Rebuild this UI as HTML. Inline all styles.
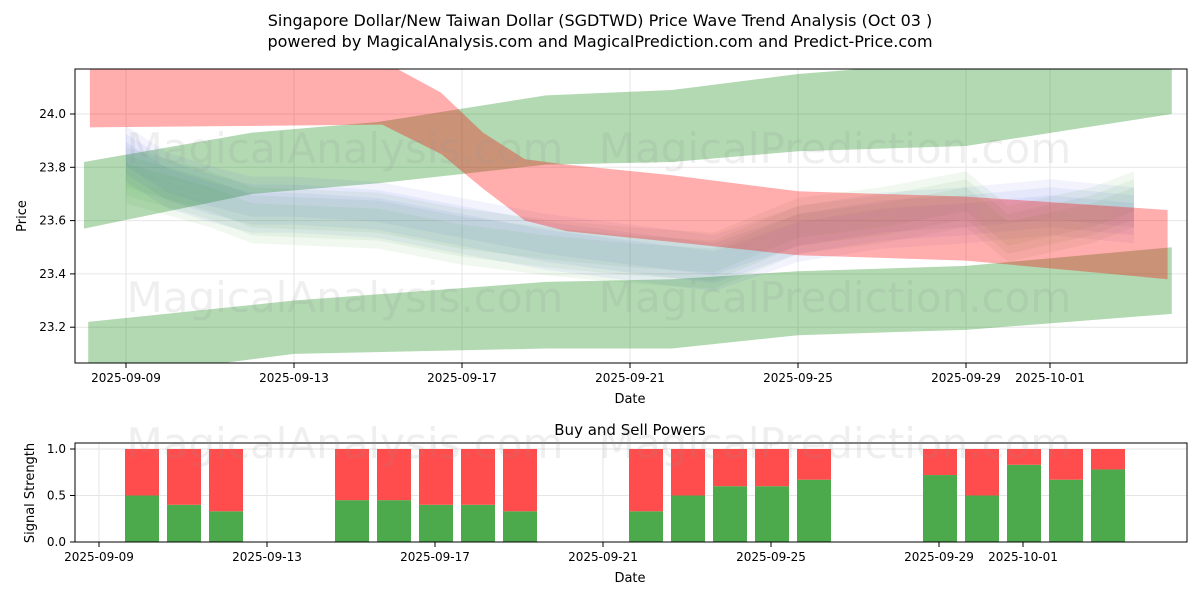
<!DOCTYPE html>
<html><head><meta charset="utf-8"><style>
body{margin:0;background:#fff;font-family:"Liberation Sans","DejaVu Sans",sans-serif}
svg text{font-family:"DejaVu Sans","Liberation Sans",sans-serif}
</style></head><body>
<svg id="c" width="1200" height="600" xmlns="http://www.w3.org/2000/svg">
<rect width="1200" height="600" fill="#fff"/>
<text x="600" y="26" text-anchor="middle" font-size="16">Singapore Dollar/New Taiwan Dollar (SGDTWD) Price Wave Trend Analysis (Oct 03 )</text>
<text x="600" y="47" text-anchor="middle" font-size="16">powered by MagicalAnalysis.com and MagicalPrediction.com and Predict-Price.com</text>
<defs><clipPath id="cp1"><rect x="75" y="69" width="1112" height="294"/></clipPath></defs>
<g id="topPlot" clip-path="url(#cp1)"></g>
<g id="topAxes"></g>
<g id="bot"></g>
</svg>
<script>
// ---- data ----
const bandRedDays=[-0.86,6.1,7.5,8.5,9.5,10.5,13,16,20,24.8];
const bandRedLo=[23.95,23.96,23.85,23.72,23.6,23.56,23.52,23.47,23.45,23.38];
const bandRedHi=[24.25,24.2,24.08,23.93,23.83,23.81,23.77,23.71,23.69,23.64];
const bandUpDays=[-1,3,6,10,13,16,20,24.9];
const bandUpLo=[23.57,23.7,23.74,23.81,23.82,23.86,23.88,24.0];
const bandUpHi=[23.82,23.93,23.97,24.07,24.09,24.15,24.2,24.25];
const bandLowDays=[-0.9,4,10,13,16,20,24.9];
const bandLowLo=[23.0,23.1,23.12,23.12,23.17,23.19,23.25];
const bandLowHi=[23.22,23.3,23.37,23.38,23.41,23.43,23.5];
const blueDays=[0,1,2,3,4,6,8,10,12,14,16,18,20,22,24];
const blueMid=[23.85,23.75,23.7,23.66,23.66,23.64,23.58,23.52,23.48,23.44,23.55,23.6,23.62,23.65,23.62];
const greenDays=[0,2,3,6,8,10,12,14,16,18,20,21,23,24];
const greenMid=[23.77,23.68,23.62,23.6,23.54,23.5,23.47,23.45,23.58,23.62,23.68,23.55,23.62,23.68];
const yTicks=[23.2,23.4,23.6,23.8,24.0];
const xTickDays=[0,4,8,12,16,20,22];
const xTickLabels=["2025-09-09","2025-09-13","2025-09-17","2025-09-21","2025-09-25","2025-09-29","2025-10-01"];
const barDays=[1,2,3,6,7,8,9,10,13,14,15,16,17,20,21,22,23,24];
const buyVals=[0.5,0.4,0.33,0.45,0.45,0.4,0.4,0.33,0.33,0.5,0.6,0.6,0.67,0.72,0.5,0.83,0.67,0.78];
const sigTicks=[0,0.5,1.0];

const NS="http://www.w3.org/2000/svg";
function mk(t,a,p){const e=document.createElementNS(NS,t);for(const k in a)e.setAttribute(k,a[k]);p.appendChild(e);return e;}
const X=d=>126+42*d;
const Y=v=>114+(24.0-v)*266.5;
const XB=d=>99+42*d;
const YB=v=>542-v*93;
const topG=document.getElementById('topPlot'),ta=document.getElementById('topAxes'),bot=document.getElementById('bot'),svg=document.getElementById('c');

for(const v of yTicks){const l=mk('line',{x1:75,x2:1187,y1:Y(v),y2:Y(v),stroke:'#e6e6e6'},topG);}
for(const d of xTickDays){const l=mk('line',{x1:X(d),x2:X(d),y1:69,y2:363,stroke:'#e6e6e6'},topG);}

function band(days,lo,hi,fill,name){
  let p=days.map((d,i)=>X(d)+','+Y(hi[i]));
  for(let i=days.length-1;i>=0;i--)p.push(X(days[i])+','+Y(lo[i]));
  const e=mk('polygon',{points:p.join(' '),fill:fill},topG);
  
  
}
band(bandUpDays,bandUpLo,bandUpHi,'rgba(0,128,0,0.3)','upper-green-band');
band(bandLowDays,bandLowLo,bandLowHi,'rgba(0,128,0,0.3)','lower-green-band');
const offs=[-0.06,-0.03,0,0.03,0.06];
offs.forEach(o=>{
  band(blueDays,blueMid.map(v=>v+o-0.045),blueMid.map(v=>v+o+0.045),'rgba(70,90,220,0.07)','blue-wave-band');
  band(greenDays,greenMid.map(v=>v+o-0.045),greenMid.map(v=>v+o+0.045),'rgba(40,150,40,0.07)','green-wave-band');
});
band(bandRedDays,bandRedLo,bandRedHi,'rgba(255,0,0,0.32)','red-band');

[[345,163],[835,163],[345,312],[835,312],[345,458],[835,458]].forEach(([x,y])=>{const t=mk('text',{x:x,y:y,'text-anchor':'middle','font-size':42,fill:'rgba(150,150,150,0.15)'},svg);t.textContent=x<500?'MagicalAnalysis.com':'MagicalPrediction.com';});

mk('rect',{x:75,y:69,width:1112,height:294,fill:'none',stroke:'#000','stroke-width':1},ta);
for(const v of yTicks){mk('line',{x1:70,x2:75,y1:Y(v),y2:Y(v),stroke:'#000'},ta);const t=mk('text',{x:66,y:Y(v)+4,'text-anchor':'end','font-size':12},ta);t.textContent=v.toFixed(1);}
xTickDays.forEach((d,i)=>{mk('line',{x1:X(d),x2:X(d),y1:363,y2:368,stroke:'#000'},ta);const t=mk('text',{x:X(d),y:382,'text-anchor':'middle','font-size':12},ta);t.textContent=xTickLabels[i];});
let t=mk('text',{x:630,y:403,'text-anchor':'middle','font-size':13},ta);t.textContent='Date';
t=mk('text',{x:26,y:216,'text-anchor':'middle','font-size':13,transform:'rotate(-90 26 216)'},ta);t.textContent='Price';

for(const v of sigTicks){const l=mk('line',{x1:75,x2:1187,y1:YB(v),y2:YB(v),stroke:'#e6e6e6'},bot);}
for(const d of xTickDays){const l=mk('line',{x1:XB(d),x2:XB(d),y1:443,y2:542,stroke:'#e6e6e6'},bot);}
barDays.forEach((d,i)=>{
  const cx=XB(d)+1;
  const g=mk('rect',{x:cx-17,y:YB(buyVals[i]),width:34,height:YB(0)-YB(buyVals[i]),fill:'#4caa4c'},bot);
  
  const r=mk('rect',{x:cx-17,y:YB(1),width:34,height:YB(buyVals[i])-YB(1),fill:'#ff4d4d'},bot);
  
});
mk('rect',{x:75,y:443,width:1112,height:99,fill:'none',stroke:'#000'},bot);
for(const v of sigTicks){mk('line',{x1:70,x2:75,y1:YB(v),y2:YB(v),stroke:'#000'},bot);const s=mk('text',{x:66,y:YB(v)+4,'text-anchor':'end','font-size':12},bot);s.textContent=v.toFixed(1);}
xTickDays.forEach((d,i)=>{mk('line',{x1:XB(d),x2:XB(d),y1:542,y2:547,stroke:'#000'},bot);const s=mk('text',{x:XB(d),y:561,'text-anchor':'middle','font-size':12},bot);s.textContent=xTickLabels[i];});
t=mk('text',{x:630,y:582,'text-anchor':'middle','font-size':13},bot);t.textContent='Date';
t=mk('text',{x:630,y:435,'text-anchor':'middle','font-size':15},bot);t.textContent='Buy and Sell Powers';
t=mk('text',{x:34,y:493,'text-anchor':'middle','font-size':13,transform:'rotate(-90 34 493)'},bot);t.textContent='Signal Strength';
</script>
</body></html>
